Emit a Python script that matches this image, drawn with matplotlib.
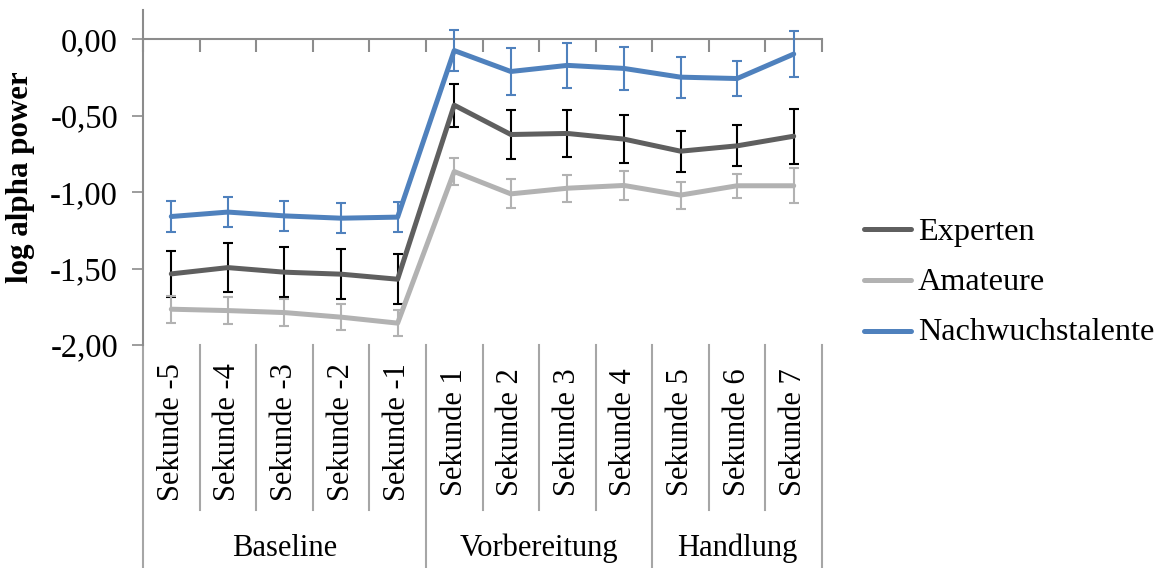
import matplotlib
matplotlib.use("Agg")
import matplotlib.pyplot as plt
from matplotlib.lines import Line2D
import matplotlib.transforms as mtransforms

plt.rcParams['font.family'] = ['Liberation Serif', 'DejaVu Serif']

# Categories and phases
categories = ["Sekunde -5", "Sekunde -4", "Sekunde -3", "Sekunde -2", "Sekunde -1",
              "Sekunde 1", "Sekunde 2", "Sekunde 3", "Sekunde 4",
              "Sekunde 5", "Sekunde 6", "Sekunde 7"]
phases = ["Baseline", "Vorbereitung", "Handlung"]
phase_sizes = [5, 4, 3]

# Mean log alpha power per group
experten = [-1.535, -1.494, -1.524, -1.537, -1.570,
            -0.432, -0.624, -0.617, -0.654, -0.733, -0.698, -0.635]
amateure = [-1.766, -1.775, -1.788, -1.818, -1.857,
            -0.866, -1.012, -0.975, -0.957, -1.020, -0.959, -0.959]
nachwuchs = [-1.160, -1.131, -1.156, -1.171, -1.164,
             -0.075, -0.212, -0.172, -0.192, -0.249, -0.258, -0.098]

# Error bar half-widths
experten_err = [0.152, 0.160, 0.163, 0.163, 0.163,
                0.141, 0.157, 0.156, 0.155, 0.135, 0.135, 0.180]
amateure_err = [0.088, 0.087, 0.087, 0.083, 0.085,
                0.086, 0.094, 0.089, 0.096, 0.088, 0.080, 0.113]
nachwuchs_err = [0.103, 0.098, 0.098, 0.100, 0.096,
                 0.134, 0.153, 0.147, 0.142, 0.135, 0.117, 0.151]

series = [
    ("Experten", experten, experten_err, "#5F5F5F", "#000000"),
    ("Amateure", amateure, amateure_err, "#B2B2B2", "#B2B2B2"),
    ("Nachwuchstalente", nachwuchs, nachwuchs_err, "#4F81BD", "#4F81BD"),
]

W, H = 1162, 568
fig = plt.figure(figsize=(W / 100, H / 100), dpi=100)
left, right, top, bottom = 143, 822, 10, 345
ax = fig.add_axes([left / W, 1 - bottom / H, (right - left) / W, (bottom - top) / H])

axis_gray = "#8C8C8C"
x = list(range(1, len(categories) + 1))

for name, vals, err, lc, ec in series:
    ax.errorbar(x, vals, yerr=err, fmt='none', ecolor=ec, elinewidth=1.5,
                capsize=3.8, capthick=1.5, zorder=3)
    ax.plot(x, vals, color=lc, lw=3.6, solid_joinstyle='round',
            solid_capstyle='round', zorder=4)

ax.set_xlim(0.5, len(categories) + 0.5)
ax.set_ylim(-2.0, 0.19)

# Y axis
yticks = [0, -0.5, -1.0, -1.5, -2.0]
ax.set_yticks(yticks)
ax.set_yticklabels([f"{v:.2f}".replace('.', ',') for v in yticks], fontsize=23.5)
ax.tick_params(axis='y', direction='out', length=8, width=1.2, color=axis_gray, pad=10)
ax.set_ylabel("log alpha power", fontsize=22.3, fontweight='bold')
ax.yaxis.set_label_coords(-0.159, 0.5)

# Category axis runs along y = 0
for s in ['top', 'right']:
    ax.spines[s].set_visible(False)
ax.spines['left'].set_color(axis_gray)
ax.spines['left'].set_linewidth(1.5)
ax.spines['bottom'].set_position(('data', 0))
ax.spines['bottom'].set_color(axis_gray)
ax.spines['bottom'].set_linewidth(1.5)
boundaries = [i + 0.5 for i in range(len(categories) + 1)]
ax.set_xticks(boundaries)
ax.set_xticklabels([])
ax.tick_params(axis='x', direction='out', length=9, width=1.5, color=axis_gray)

# Category labels and separators below the plot area
trans = mtransforms.blended_transform_factory(ax.transData, ax.transAxes)
h_ax = bottom - top
def frac(ypix):
    return -(ypix - bottom) / h_ax

for xi, lab in zip(x, categories):
    ax.text(xi, frac(432), lab, rotation=90, ha='center', va='center',
            fontsize=22, transform=trans, clip_on=False)

group_edges = [0.5]
for n in phase_sizes:
    group_edges.append(group_edges[-1] + n)

for b in boundaries:
    yend = frac(568 + 5) if b in group_edges else frac(510)
    ax.plot([b, b], [0, yend], color="#A6A6A6", lw=1.5, transform=trans, clip_on=False)

for i, ph in enumerate(phases):
    cx = (group_edges[i] + group_edges[i + 1]) / 2
    ax.text(cx, frac(548), ph, ha='center', va='center', fontsize=22,
            transform=trans, clip_on=False)

# Legend
legend_rows = [(228.5, 240), (279.5, 290), (330.5, 340)]
for (name, vals, err, lc, ec), (ly, by) in zip(series, legend_rows):
    fig.add_artist(Line2D([864 / W, 911 / W], [1 - ly / H, 1 - ly / H], color=lc,
                          lw=3.6, solid_capstyle='round'))
    fig.text(918 / W, 1 - by / H, name, fontsize=23.2, ha='left', va='baseline')

fig.savefig("out.png", dpi=100)
